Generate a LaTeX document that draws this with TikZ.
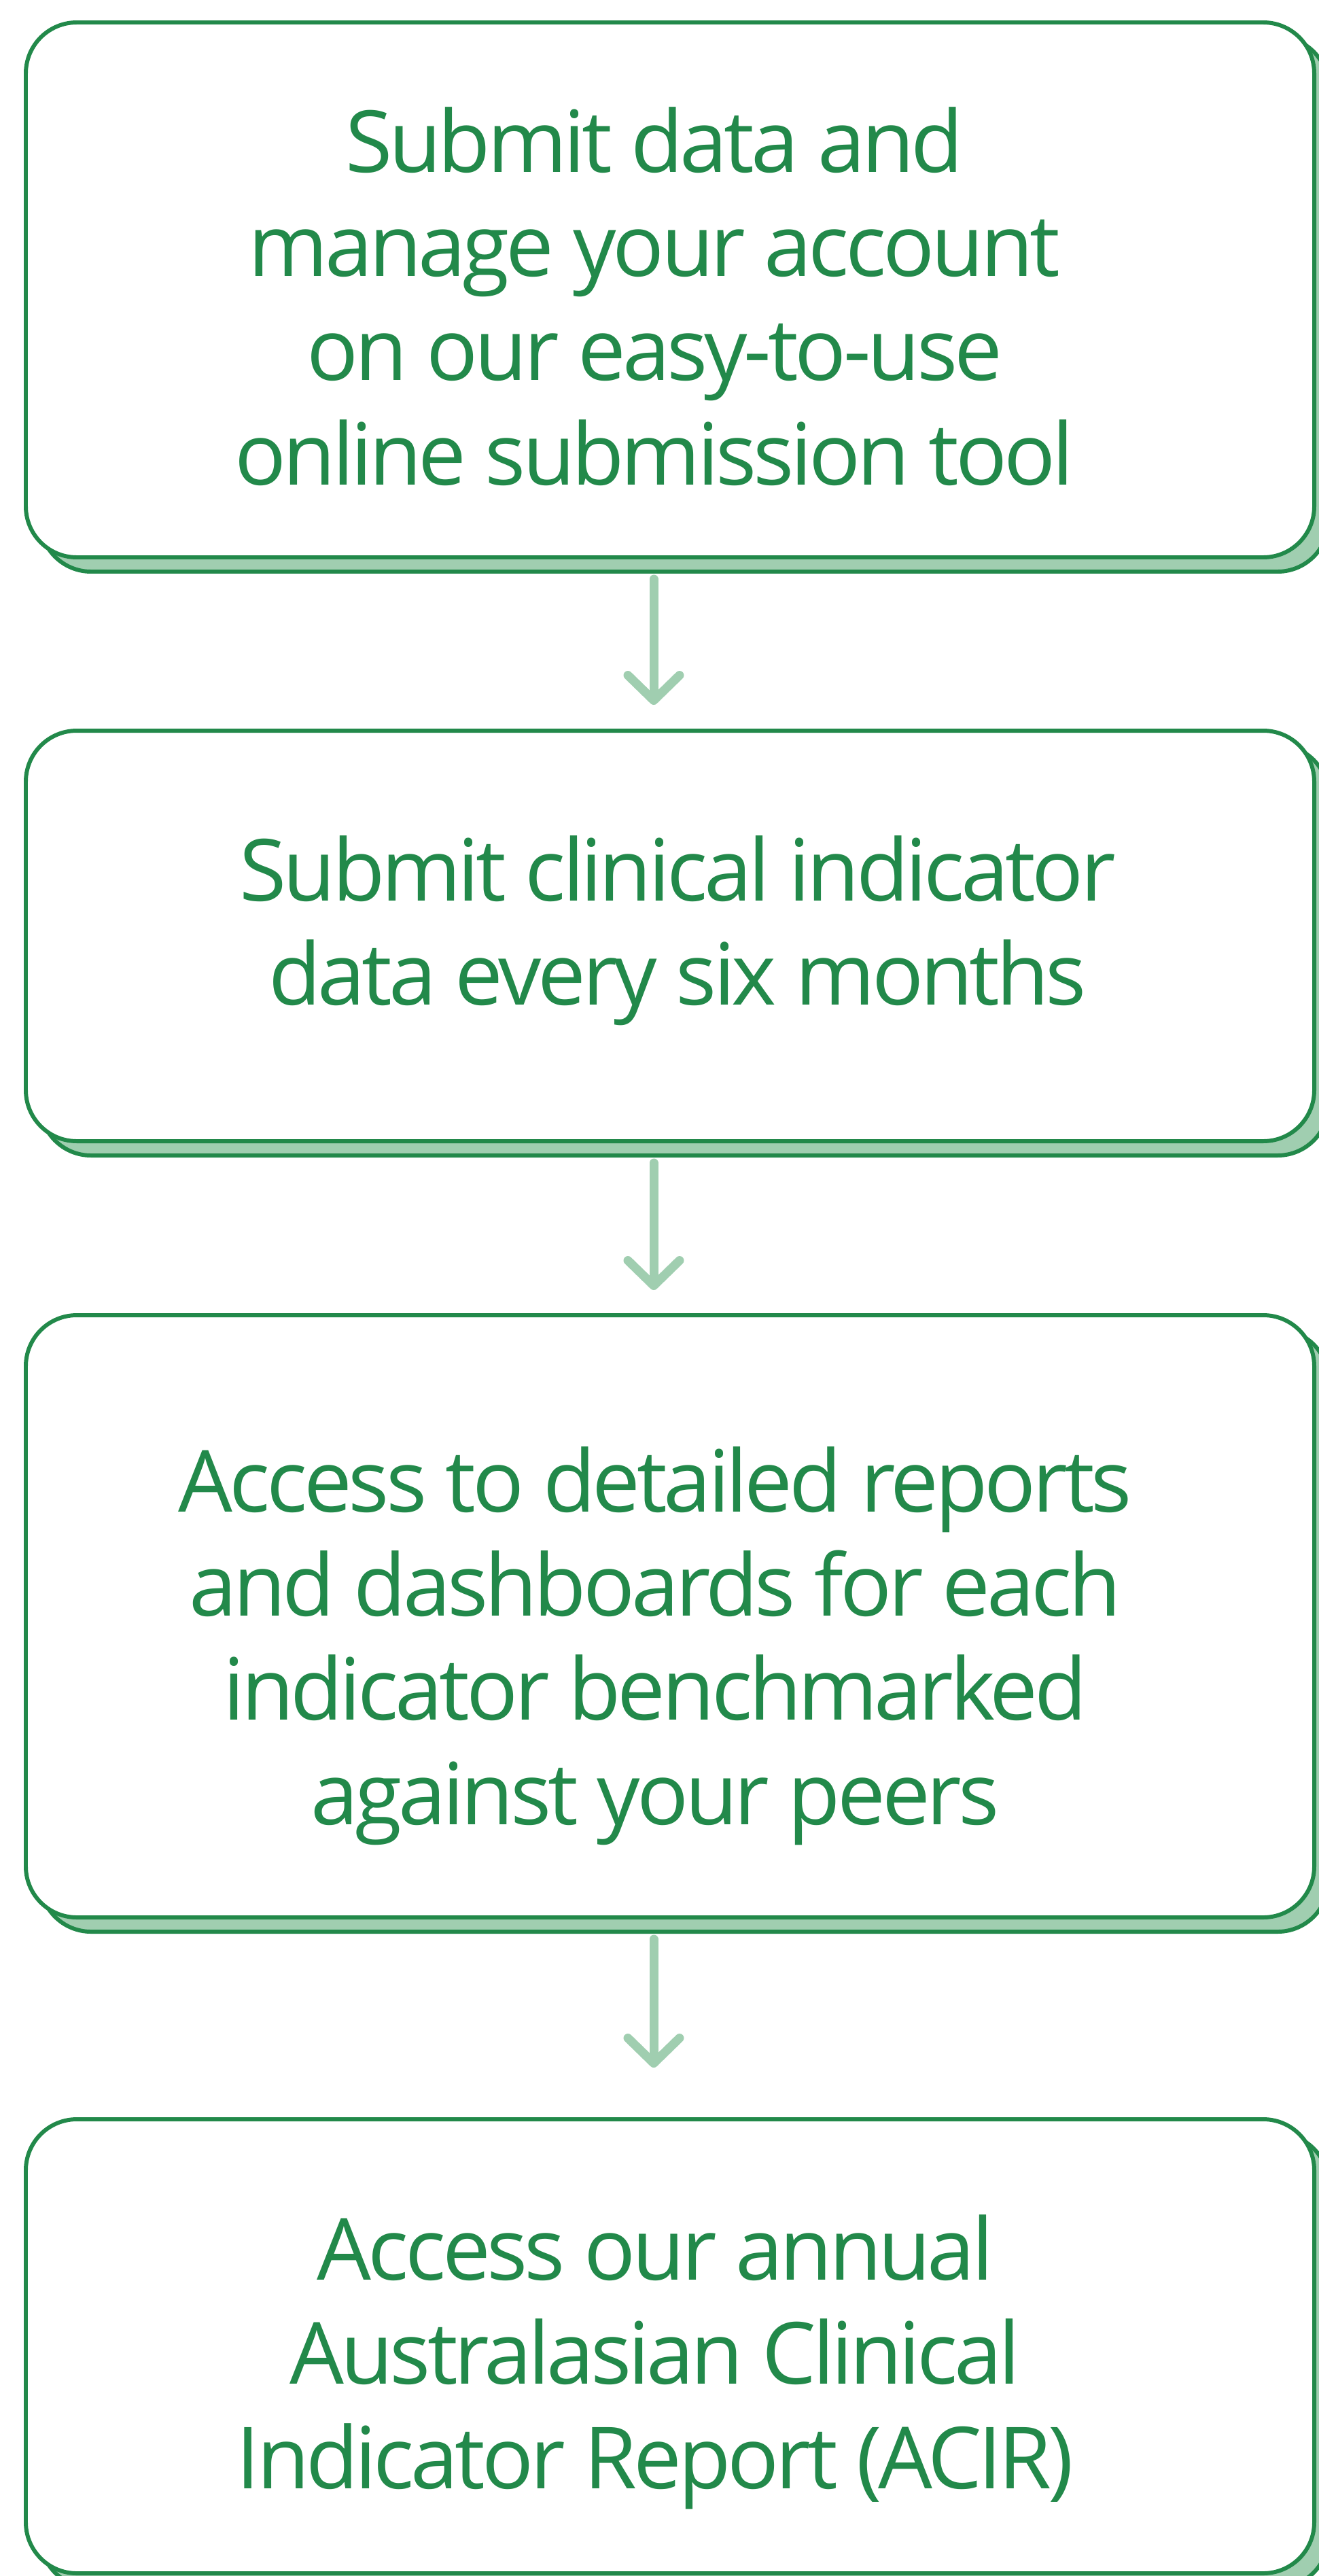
\documentclass[tikz,border=0pt]{standalone}
\usepackage{fontspec}
\setmainfont[LetterSpace=-4.0]{Open Sans}
\usetikzlibrary{shadows,arrows.meta}
\definecolor{acgreen}{RGB}{34,137,74}
\definecolor{acmint}{RGB}{160,206,176}

\begin{document}
\begin{tikzpicture}[
    box/.style={draw=acgreen, line width=1.7pt, fill=white, rounded corners=0.75cm,
      minimum width=18.96cm, inner sep=0pt, outer sep=0pt,
      copy shadow={shadow xshift=0.21cm, shadow yshift=-0.21cm, fill=acmint, draw=acgreen, line width=1.7pt}},
    txt/.style={text=acgreen, align=center, inner sep=0pt, font=\fontsize{35.9}{43.6}\selectfont},
    flow/.style={draw=acmint, line width=3.7pt, line cap=round, shorten <=0.32cm,
      -{Straight Barb[round, length=0.37cm, width=0.76cm]}}]
  \useasboundingbox (0,0) rectangle (19.41,-37.90);
  \clip (0,0) rectangle (19.41,-37.90);
  % the four steps
  \node[box, minimum height=7.87cm] (b1) at (9.86,-4.265) {};
  \node[box, minimum height=6.04cm] (b2) at (9.86,-13.77) {};
  \node[box, minimum height=8.86cm] (b3) at (9.86,-23.78) {};
  \node[box, minimum height=6.68cm] (b4) at (9.86,-34.52) {};
  \node[txt] (t1) at (9.63,-4.36) {Submit data and\\manage your account\\on our easy-to-use\\online submission tool};
  \node[txt] (t2) at (9.97,-13.69) {Submit clinical indicator\\data every six months};
  \node[txt] (t3) at (9.64,-24.215) {Access to detailed reports\\and dashboards for each\\indicator benchmarked\\against your peers};
  \node[txt] (t4) at (9.64,-34.75) {Access our annual\\Australasian Clinical\\Indicator Report (ACIR)};
  % arrows
  \draw[flow, shorten >=0.38cm] ([xshift=-0.24cm]b1.south) -- ([xshift=-0.24cm]b2.north);
  \draw[flow, shorten >=0.37cm] ([xshift=-0.24cm]b2.south) -- ([xshift=-0.24cm]b3.north);
  \draw[flow, shorten >=0.76cm] ([xshift=-0.24cm]b3.south) -- ([xshift=-0.24cm]b4.north);
\end{tikzpicture}
\end{document}
